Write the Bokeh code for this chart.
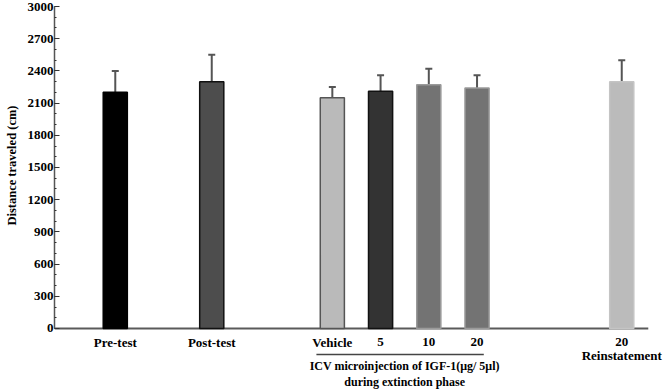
from bokeh.plotting import figure
from bokeh.models import (Range1d, SingleIntervalTicker, Whisker, TeeHead,
                          ColumnDataSource, Title)
from bokeh.core.properties import value
from bokeh.embed import file_html
from bokeh.resources import INLINE

# Locomotor activity per group
labels = ["Pre-test", "Post-test", "Vehicle", "5", "10", "20", "20"]
positions = [0.0, 2.0, 4.5, 5.5, 6.5, 7.5, 10.5]
means = [2200, 2300, 2150, 2210, 2270, 2240, 2300]
sems = [200, 250, 100, 150, 150, 120, 200]
fills = ["#000000", "#4d4d4d", "#bababa", "#333333", "#737373", "#737373", "#bbbbbb"]
edges = ["#000000", "#111111", "#555555", "#111111", "#9a9a9a", "#9a9a9a", "#c4c4c4"]

group_title = ["ICV microinjection of IGF-1(μg/ 5μl)", "during extinction phase"]
phase_title = "Reinstatement"
y_title = "Distance traveled (cm)"

FONT_NAME = "Liberation Serif"
FONT = value(FONT_NAME)

X_START, X_END, AXIS_END = -1.26, 11.49, 11.05
Y_MIN, Y_MAX, Y_FLOOR = 0, 3000, -578

src = ColumnDataSource(dict(
    x=positions, top=means, upper=[m + s for m, s in zip(means, sems)],
    fill=fills, edge=edges, label=labels,
))

p = figure(width=669, height=390, output_backend="svg", toolbar_location=None,
           x_range=Range1d(X_START, X_END), y_range=Range1d(Y_FLOOR, Y_MAX),
           min_border_left=52, min_border_right=0, min_border_top=6,
           min_border_bottom=0)
p.outline_line_color = None
p.background_fill_color = "white"
p.grid.visible = False
p.xaxis.visible = False

ax = p.yaxis[0]
ax.bounds = (Y_MIN, Y_MAX)
ax.ticker = SingleIntervalTicker(interval=300, num_minor_ticks=3)
ax.axis_line_color = "#555555"
ax.axis_line_width = 1.5
ax.major_tick_line_color = "#333333"
ax.major_tick_in = 5
ax.major_tick_out = 0
ax.minor_tick_line_color = "#333333"
ax.minor_tick_in = 2
ax.minor_tick_out = 0
ax.major_label_text_font = FONT_NAME
ax.major_label_text_font_style = "bold"
ax.major_label_text_font_size = "13px"
ax.major_label_text_color = "black"
ax.major_label_standoff = 1

# axis title, placed along the 0-3000 span of the axis
p.add_layout(Title(text=y_title, align="right", vertical_align="top", offset=99,
                   text_font=FONT_NAME, text_font_style="bold",
                   text_font_size="12.5px", text_color="black", standoff=8),
             "left")

# baseline along zero
p.segment(x0=[X_START], y0=[0], x1=[AXIS_END], y1=[0],
          line_color="#5a5a5a", line_width=2)

p.vbar(x="x", top="top", width=0.5, bottom=0, source=src,
       fill_color="fill", line_color="edge", line_width=1.5)

p.add_layout(Whisker(source=src, base="x", lower="top", upper="upper",
                     line_color="#555555", line_width=2, lower_head=None,
                     upper_head=TeeHead(size=7, line_color="#555555", line_width=2)))

# category labels under the bars
p.text(x="x", y=-130, text="label", source=src, text_font=FONT,
       text_font_style="bold", text_font_size="13px", text_align="center",
       text_baseline="middle", text_color="black")

# bracket and caption for the extinction-phase groups
g0, g1 = positions[2], positions[5]
p.segment(x0=[g0 - 0.33], y0=[-242], x1=[g1 + 0.14], y1=[-242],
          line_color="#444444", line_width=1.5)
mid = (g0 + g1) / 2
p.text(x=[mid, mid], y=[-354, -500], text=group_title, text_font=FONT,
       text_font_style="bold", text_font_size="12px", text_align="center",
       text_baseline="middle", text_color="black")

p.text(x=[positions[6]], y=[-250], text=[phase_title], text_font=FONT,
       text_font_style="bold", text_font_size="13px", text_align="center",
       text_baseline="middle", text_color="black")

open("out.html", "w").write(file_html(p, INLINE))
